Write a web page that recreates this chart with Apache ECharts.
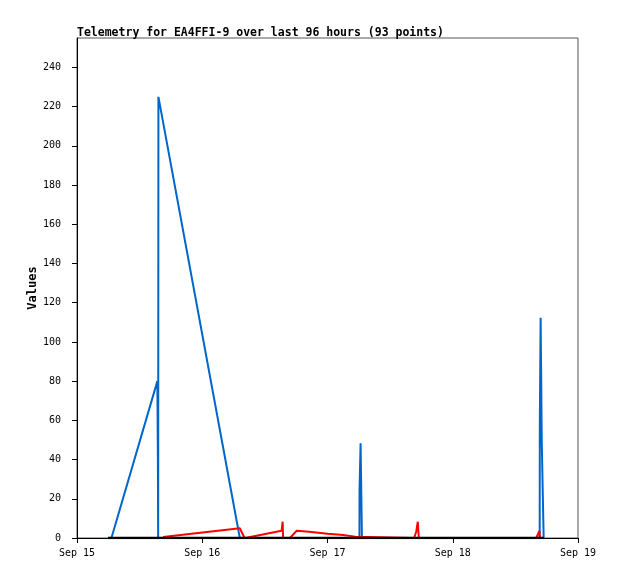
<!DOCTYPE html>
<html lang="en">
<head>
<meta charset="UTF-8" />
<title>Telemetry for EA4FFI-9</title>
<style>
  html, body { margin: 0; padding: 0; background: #fff; }
  #chart { width: 618px; height: 579px; }
</style>
</head>
<body>
<div id="chart"></div>
<script src="https://cdn.jsdelivr.net/npm/echarts@6/dist/echarts.min.js"></script>
<script>
  // hours after Sep 15 00:00 and the values
  const startDay = '2023-09-15 00:00';
  const endDay = '2023-09-19 00:00';
  const monthNames = ['Jan','Feb','Mar','Apr','May','Jun','Jul','Aug','Sep','Oct','Nov','Dec'];

  const blueHours  = [6.6, 15.4, 15.5, 15.55, 15.6, 31.2, 54.12, 54.14, 54.32, 54.34, 54.58, 54.6, 88.66, 88.68, 88.82, 88.84, 89.04, 89.06, 89.4, 89.42];
  const blueValues = [0,   80,   40,   0,     225,  0,    0,     24.5,  24.5,  48.3,  48.3,  0,    0,     56.2,  56.2,  112.3, 112.3, 48.3,  48.3, 0];

  const redHours  = [16.5, 31.2, 32.1, 32.7, 39.2, 39.4, 39.5, 40.8, 42.1, 44.5, 48.0, 51.0, 53.3, 53.5, 64.6, 65.0, 65.25, 65.3, 65.45, 65.5, 88.0, 88.6, 88.7];
  const redValues = [0.5,  5,    0,    0.3,  3.7,  8.3,  0,    0,    3.7,  3.2,  2.2,  1.5,  0.7,  0,    0,    3.2,  3.2,   8.3,  8.3,   0,    0,    3.6,  0];

  const blackHours  = [5.95, 89.45];
  const blackValues = [0,    0];

  const yTicks = [0, 20, 40, 60, 80, 100, 120, 140, 160, 180, 200, 220, 240];

  const t0 = new Date(startDay.replace(' ', 'T')).getTime();
  const toPoints = (hours, values) => hours.map((h, i) => [t0 + h * 3600e3, values[i]]);

  const chart = echarts.init(document.getElementById('chart'));
  const mono = "'DejaVu Sans Mono', monospace";

  chart.setOption({
    animation: false,
    title: {
      text: 'Telemetry for EA4FFI-9 over last 96 hours (93 points)',
      left: 72,
      top: 22,
      textStyle: { fontFamily: mono, fontSize: 11.5, fontWeight: 'bold', color: '#000' }
    },
    grid: {
      left: 77, right: 40, top: 38, bottom: 41,
      show: true, borderColor: '#555', borderWidth: 1, backgroundColor: '#fff'
    },
    xAxis: {
      type: 'time',
      min: t0,
      max: new Date(endDay.replace(' ', 'T')).getTime(),
      minInterval: 86400e3,
      maxInterval: 86400e3,
      splitLine: { show: false },
      axisLine: { lineStyle: { color: '#000', width: 1 } },
      axisTick: { show: true, length: 5, lineStyle: { color: '#000' } },
      axisLabel: {
        fontFamily: mono, fontSize: 10, color: '#000', margin: 10,
        showMinLabel: true, showMaxLabel: true,
        formatter: v => { const d = new Date(v); return monthNames[d.getMonth()] + ' ' + d.getDate(); }
      }
    },
    yAxis: {
      type: 'value',
      min: 0,
      max: 255,
      interval: 20,
      name: 'Values',
      nameLocation: 'middle',
      nameGap: 38,
      nameMoveOverlap: false,
      nameTextStyle: { fontFamily: mono, fontSize: 12, fontWeight: 'bold', color: '#000' },
      splitLine: { show: false },
      axisLine: { show: true, lineStyle: { color: '#000', width: 1 } },
      axisTick: { show: true, length: 5, lineStyle: { color: '#000' } },
      axisLabel: {
        fontFamily: mono, fontSize: 10, color: '#000', margin: 16,
        showMaxLabel: false,
        formatter: v => (yTicks.includes(v) ? String(v) : '')
      }
    },
    series: [
      {
        name: 'blue', type: 'line', data: toPoints(blueHours, blueValues),
        showSymbol: false, lineStyle: { color: '#0066cc', width: 2 }, z: 2
      },
      {
        name: 'red', type: 'line', data: toPoints(redHours, redValues),
        showSymbol: false, lineStyle: { color: '#ff0000', width: 2 }, z: 3
      },
      {
        name: 'black', type: 'line', data: toPoints(blackHours, blackValues),
        showSymbol: false, lineStyle: { color: '#000', width: 2.5 }, z: 4
      }
    ]
  });
</script>
</body>
</html>
